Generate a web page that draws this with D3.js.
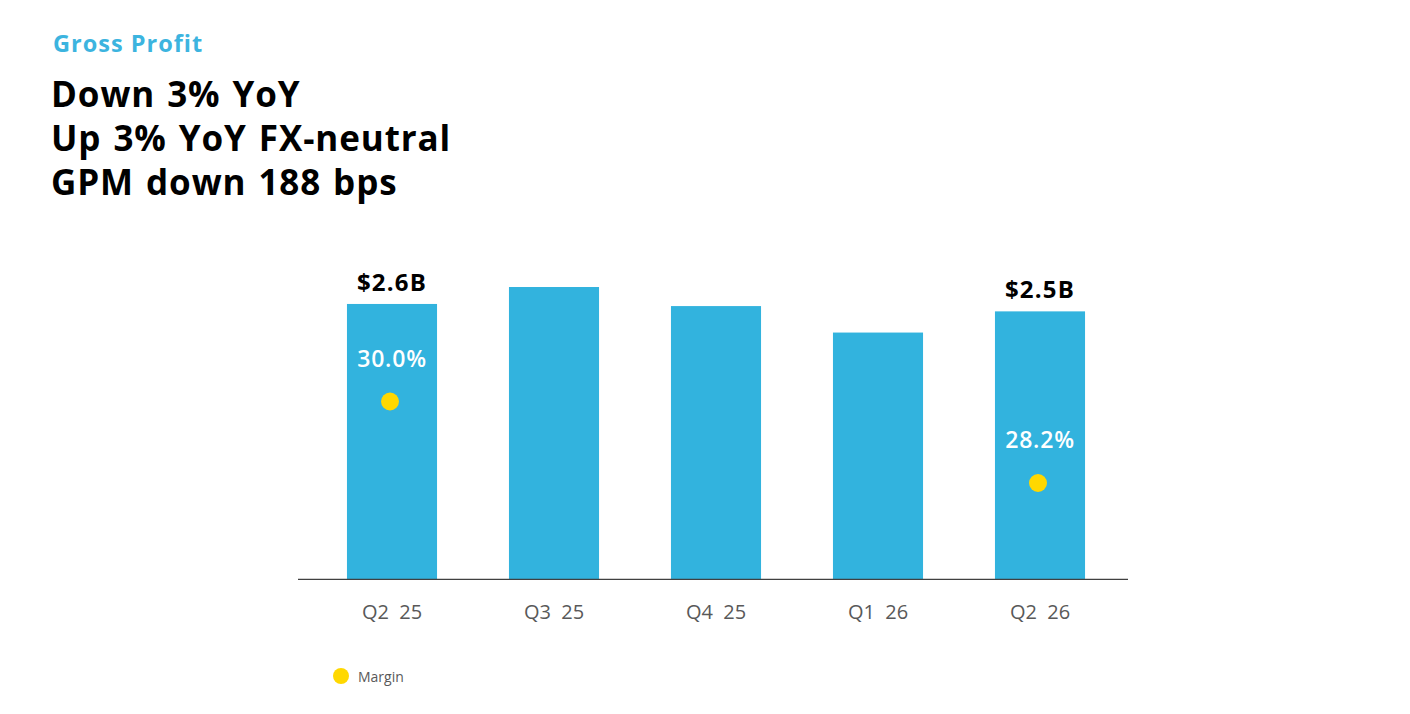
<!DOCTYPE html>
<html>
<head>
<meta charset="utf-8">
<script src="https://cdn.jsdelivr.net/npm/d3@7"></script>
<style>
  html, body { margin: 0; padding: 0; background: #fff; }
  svg { display: block; font-family: "Open Sans", "Noto Sans", sans-serif; }
</style>
</head>
<body>
<svg id="chart" width="1410" height="714"></svg>
<script>
// data
var quarters = ["Q2  25", "Q3  25", "Q4  25", "Q1  26", "Q2  26"];
var grossProfit = [2.6, 2.76, 2.58, 2.33, 2.53];   // $B
var profitLabels = ["$2.6B", null, null, null, "$2.5B"];
var margin = [30.0, null, null, null, 28.2];        // %
var marginLabels = ["30.0%", null, null, null, "28.2%"];
var headline = ["Down 3% YoY", "Up 3% YoY FX-neutral", "GPM down 188 bps"];

var barColor = "#32b3de",
	dotColor = "#ffd800";

var svg = d3.select("#chart");

// header
svg.append("text")
	.attr("x", 53).attr("y", 52)
	.attr("font-size", 23.5).attr("font-weight", 700)
	.attr("letter-spacing", 1)
	.attr("fill", "#3cb4df")
	.text("Gross Profit");

svg.selectAll(".headline")
	.data(headline)
	.enter()
	.append("text")
	.classed("headline", true)
	.attr("x", 51)
	.attr("y", function(d, i) { return 107 + i * 44; })
	.attr("font-size", 35).attr("font-weight", 700)
	.attr("letter-spacing", 0.9)
	.attr("word-spacing", 2)
	.attr("fill", "#000")
	.text(function(d) { return d; });

// scales
var x = d3.scaleBand()
	.domain(quarters)
	.range([311, 1121])
	.paddingInner(0.444)
	.paddingOuter(0.222);

var y = d3.scaleLinear()
	.domain([0, 3])
	.range([579.3, 261.6]);

// margin sits on its own axis
var ym = d3.scaleLinear()
	.domain([28.2, 30.0])
	.range([483, 401.5]);

var points = quarters.map(function(q, i) {
	return {
		q: q,
		value: grossProfit[i],
		label: profitLabels[i],
		margin: margin[i],
		marginLabel: marginLabels[i]
	};
});

// bars
svg.selectAll(".bar")
	.data(points)
	.enter()
	.append("rect")
	.classed("bar", true)
	.attr("x", function(d) { return x(d.q); })
	.attr("y", function(d) { return y(d.value); })
	.attr("width", x.bandwidth())
	.attr("height", function(d) { return y(0) - y(d.value); })
	.attr("fill", barColor);

// value labels above bars
svg.selectAll(".valueLabel")
	.data(points.filter(function(d) { return d.label; }))
	.enter()
	.append("text")
	.classed("valueLabel", true)
	.attr("x", function(d) { return x(d.q) + x.bandwidth() / 2; })
	.attr("y", function(d) { return y(d.value) - 13; })
	.attr("text-anchor", "middle")
	.attr("font-size", 24).attr("font-weight", 700)
	.attr("letter-spacing", 1.2)
	.attr("fill", "#000")
	.text(function(d) { return d.label; });

// margin dots + labels
var withMargin = points.filter(function(d) { return d.margin != null; });

svg.selectAll(".marginDot")
	.data(withMargin)
	.enter()
	.append("circle")
	.classed("marginDot", true)
	.attr("cx", function(d) { return x(d.q) + x.bandwidth() / 2 - 2; })
	.attr("cy", function(d) { return ym(d.margin); })
	.attr("r", 9)
	.attr("fill", dotColor);

svg.selectAll(".marginLabel")
	.data(withMargin)
	.enter()
	.append("text")
	.classed("marginLabel", true)
	.attr("x", function(d) { return x(d.q) + x.bandwidth() / 2; })
	.attr("y", function(d) { return ym(d.margin) - 35; })
	.attr("text-anchor", "middle")
	.attr("font-size", 23).attr("font-weight", 600)
	.attr("letter-spacing", 0.8)
	.attr("fill", "#fff")
	.text(function(d) { return d.marginLabel; });

// baseline
svg.append("line")
	.attr("x1", 298).attr("x2", 1128)
	.attr("y1", y(0)).attr("y2", y(0))
	.attr("stroke", "#404040")
	.attr("stroke-width", 1.3);

// category axis
var xAxis = svg.append("g")
	.attr("transform", "translate(0," + y(0) + ")")
	.call(d3.axisBottom(x).tickSize(0).tickPadding(26));

xAxis.select(".domain").remove();
xAxis.selectAll("text")
	.attr("font-family", "'Open Sans', sans-serif")
	.attr("font-size", 20)
	.attr("fill", "#595959")
	.style("white-space", "pre");

// legend
var legend = svg.append("g").attr("transform", "translate(341,676)");
legend.append("circle").attr("r", 8).attr("fill", dotColor);
legend.append("text")
	.attr("x", 17).attr("y", 6)
	.attr("font-size", 14)
	.attr("fill", "#595959")
	.text("Margin");
</script>
</body>
</html>
